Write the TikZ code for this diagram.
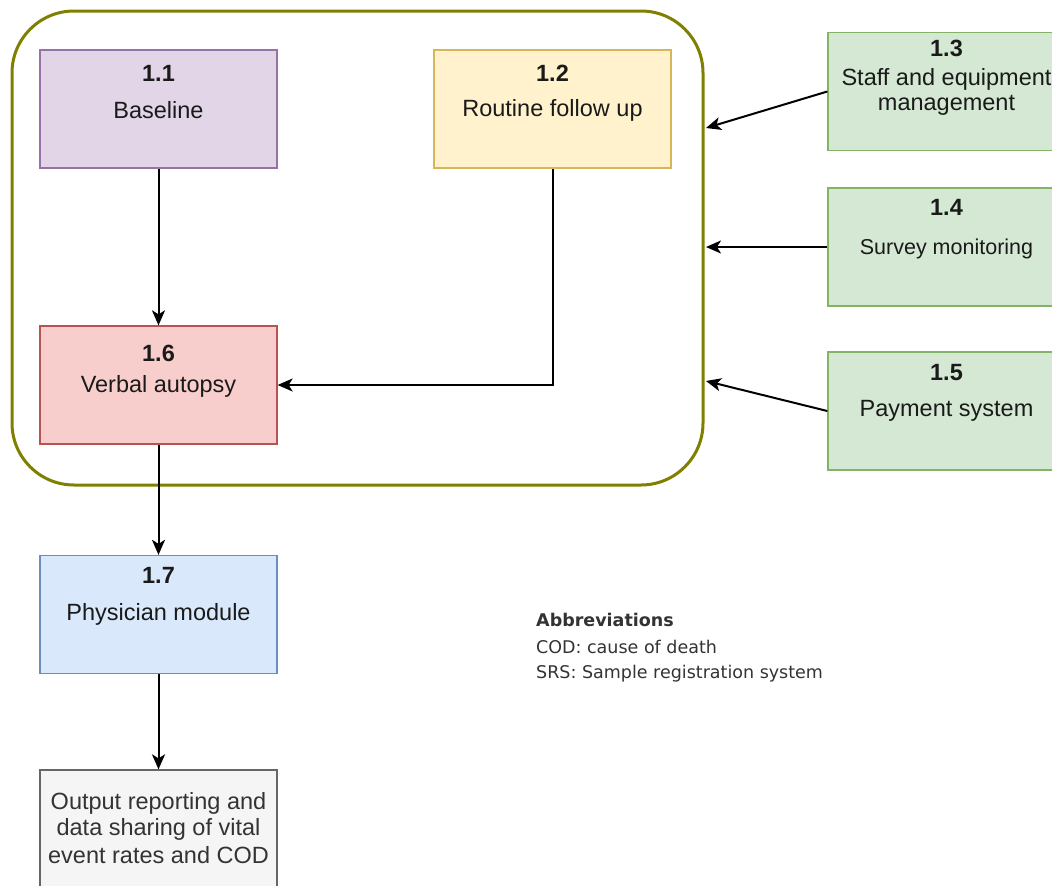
\documentclass[tikz,border=0pt]{standalone}
\usepackage{fontspec}
\setmainfont{Liberation Sans}
\newfontfamily\abbrfont{DejaVu Sans}
\usetikzlibrary{arrows.meta}
\definecolor{purF}{HTML}{E1D5E7}\definecolor{purD}{HTML}{9673A6}
\definecolor{yelF}{HTML}{FFF2CC}\definecolor{yelD}{HTML}{D6B656}
\definecolor{redF}{HTML}{F8CECC}\definecolor{redD}{HTML}{B85450}
\definecolor{bluF}{HTML}{DAE8FC}\definecolor{bluD}{HTML}{6C8EBF}
\definecolor{grnF}{HTML}{D5E8D4}\definecolor{grnD}{HTML}{82B366}
\definecolor{gryF}{HTML}{F5F5F5}\definecolor{gryD}{HTML}{666666}
\definecolor{gryT}{HTML}{333333}
\definecolor{txt}{HTML}{1A1A1A}
\definecolor{olive}{HTML}{808000}
\tikzset{
  box/.style={draw, line width=1.3pt, minimum width=237pt, minimum height=118pt, inner sep=0pt},
  num/.style={font=\fontsize{23.5}{28}\selectfont\bfseries, text=txt, inner sep=0pt},
  lab/.style={font=\fontsize{23.5}{28}\selectfont, text=txt, inner sep=0pt},
  abbr/.style={font=\abbrfont\fontsize{17.5}{21}\selectfont, text=gryT, inner sep=0pt, anchor=west},
  arr/.style={line width=2pt, -{Stealth[length=15pt, width=13pt, inset=4pt]}},
}
\begin{document}
\begin{tikzpicture}[x=1pt,y=-1pt]
\clip (0,0) rectangle (1052,886);
\fill[white] (0,0) rectangle (1052,886);
% container
\draw[olive, line width=3pt, rounded corners=62pt] (12,11) rectangle (703,485);
\coordinate (c13) at (706,128);
\coordinate (c14) at (706,247);
\coordinate (c15) at (706,381);
% boxes
\node[box, fill=purF, draw=purD] (b11) at (158.5,109) {};
\node[box, fill=yelF, draw=yelD] (b12) at (552.5,109) {};
\node[box, fill=redF, draw=redD] (b16) at (158.5,385) {};
\node[box, fill=bluF, draw=bluD] (b17) at (158.5,614.5) {};
\node[box, fill=gryF, draw=gryD] (bout) at (158.5,829) {};
\node[box, fill=grnF, draw=grnD] (b13) at (946.5,91.5) {};
\node[box, fill=grnF, draw=grnD] (b14) at (946.5,247) {};
\node[box, fill=grnF, draw=grnD] (b15) at (946.5,411) {};
% texts
\node[num] (n11) at (158.5,73) {1.1};
\node[lab] (t11) at (158.5,110) {Baseline};
\node[num] (n12) at (552.5,73) {1.2};
\node[lab] (t12) at (552.5,110) {Routine follow up};
\node[num] (n16) at (158.5,353) {1.6};
\node[lab] (t16) at (158.5,386) {Verbal autopsy};
\node[num] (n17) at (158.5,575) {1.7};
\node[lab] (t17) at (158.5,614) {Physician module};
\node[num] (n13) at (946.5,48) {1.3};
\node[lab] (t13a) at (946.5,79) {Staff and equipment};
\node[lab] (t13b) at (946.5,105) {management};
\node[num] (n14) at (946.5,207) {1.4};
\node[lab, font=\fontsize{21.5}{26}\selectfont] (t14) at (946.5,249) {Survey monitoring};
\node[num] (n15) at (946.5,373) {1.5};
\node[lab] (t15) at (946.5,411) {Payment system};
\node[lab, text=gryT] (to1) at (158.5,803) {Output reporting and};
\node[lab, text=gryT] (to2) at (158.5,829) {data sharing of vital};
\node[lab, text=gryT] (to3) at (158.5,855) {event rates and COD};
\node[abbr, font=\abbrfont\fontsize{17.5}{21}\selectfont\bfseries] (ab0) at (536,620) {Abbreviations};
\node[abbr] (ab1) at (536,647) {COD: cause of death};
\node[abbr] (ab2) at (536,674) {SRS: Sample registration system};
% arrows
\draw[arr] (b11.south) -- (b16.north);
\draw[arr] (b12.south) |- (b16.east);
\draw[arr] (b16.south) -- (b17.north);
\draw[arr] (b17.south) -- (bout.north);
\draw[arr] (b13.west) -- (c13);
\draw[arr] (b14.west) -- (c14);
\draw[arr] (b15.west) -- (c15);
\end{tikzpicture}
\end{document}
